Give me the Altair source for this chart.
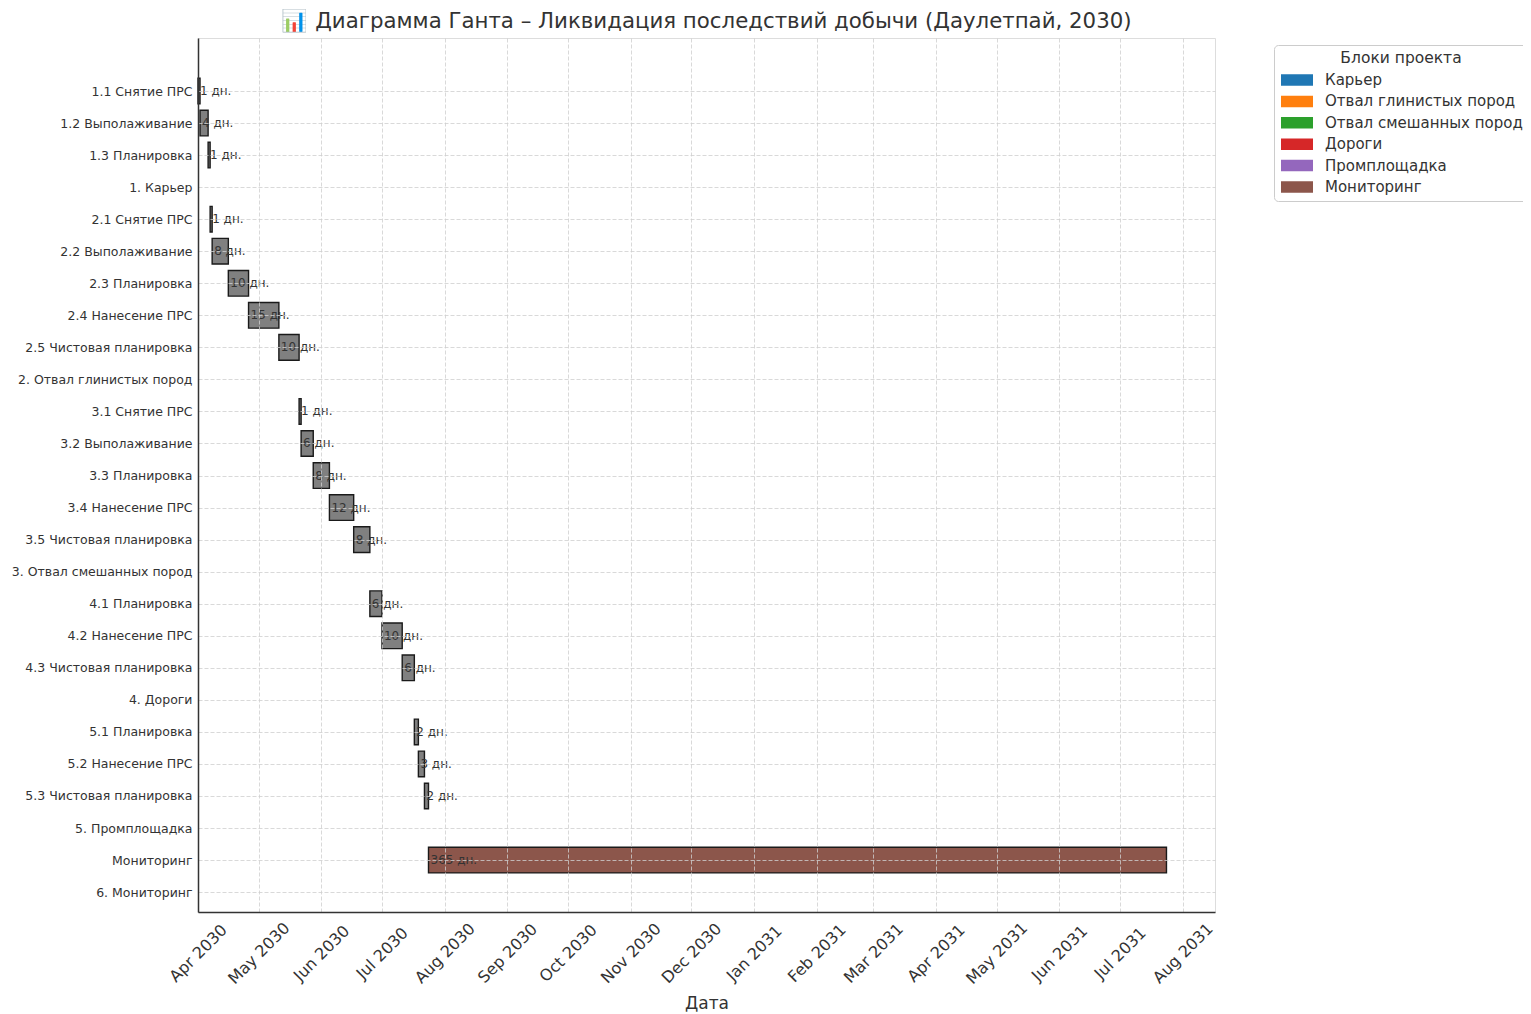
import altair as alt
import pandas as pd

# ---------------- data ----------------
blocks = ["Карьер", "Отвал глинистых пород", "Отвал смешанных пород",
          "Дороги", "Промплощадка", "Мониторинг"]
block_colors = ["#1f77b4", "#ff7f0e", "#2ca02c", "#d62728", "#9467bd", "#8c564b"]

row_labels = [
    "1.1 Снятие ПРС", "1.2 Выполаживание", "1.3 Планировка", "1. Карьер",
    "2.1 Снятие ПРС", "2.2 Выполаживание", "2.3 Планировка", "2.4 Нанесение ПРС",
    "2.5 Чистовая планировка", "2. Отвал глинистых пород",
    "3.1 Снятие ПРС", "3.2 Выполаживание", "3.3 Планировка", "3.4 Нанесение ПРС",
    "3.5 Чистовая планировка", "3. Отвал смешанных пород",
    "4.1 Планировка", "4.2 Нанесение ПРС", "4.3 Чистовая планировка", "4. Дороги",
    "5.1 Планировка", "5.2 Нанесение ПРС", "5.3 Чистовая планировка", "5. Промплощадка",
    "Мониторинг", "6. Мониторинг",
]

task_labels = [
    "1.1 Снятие ПРС", "1.2 Выполаживание", "1.3 Планировка",
    "2.1 Снятие ПРС", "2.2 Выполаживание", "2.3 Планировка", "2.4 Нанесение ПРС",
    "2.5 Чистовая планировка",
    "3.1 Снятие ПРС", "3.2 Выполаживание", "3.3 Планировка", "3.4 Нанесение ПРС",
    "3.5 Чистовая планировка",
    "4.1 Планировка", "4.2 Нанесение ПРС", "4.3 Чистовая планировка",
    "5.1 Планировка", "5.2 Нанесение ПРС", "5.3 Чистовая планировка",
    "Мониторинг",
]
task_rows = [0, 1, 2, 4, 5, 6, 7, 8, 10, 11, 12, 13, 14, 16, 17, 18, 20, 21, 22, 24]
task_block = (["Карьер"] * 3 + ["Отвал глинистых пород"] * 5 +
              ["Отвал смешанных пород"] * 5 + ["Дороги"] * 3 +
              ["Промплощадка"] * 3 + ["Мониторинг"])
task_start = [
    "2030-04-01", "2030-04-02", "2030-04-06",
    "2030-04-07", "2030-04-08", "2030-04-16", "2030-04-26", "2030-05-11",
    "2030-05-21", "2030-05-22", "2030-05-28", "2030-06-05", "2030-06-17",
    "2030-06-25", "2030-07-01", "2030-07-11",
    "2030-07-17", "2030-07-19", "2030-07-22",
    "2030-07-24",
]
task_days = [1, 4, 1, 1, 8, 10, 15, 10, 1, 6, 8, 12, 8, 6, 10, 6, 2, 3, 2, 365]

month_ticks = [(2030, m) for m in range(4, 13)] + [(2031, m) for m in range(1, 9)]

# ---------------- frames ----------------
start = pd.to_datetime(pd.Series(task_start))
end = start + pd.to_timedelta(pd.Series(task_days), unit="D")
df = pd.DataFrame({
    "task": task_labels,
    "block": task_block,
    "start": start.dt.strftime("%Y-%m-%dT%H:%M:%S"),
    "end": end.dt.strftime("%Y-%m-%dT%H:%M:%S"),
    "row": task_rows,
    "label": [f"{d} дн." for d in task_days],
})
df["y1"] = df["row"] - 0.4
df["y2"] = df["row"] + 0.4

leg_df = pd.DataFrame({"block": blocks,
                       "start": [df["start"][0]] * len(blocks),
                       "y1": [0.0] * len(blocks)})

FONT = "DejaVu Sans"
TXT = "#333333"

x_scale = alt.Scale(domain=[alt.DateTime(year=2030, month=4, date=1),
                            alt.DateTime(year=2031, month=8, date=17)], nice=False)
y_scale = alt.Scale(domain=[-1.654, 25.62], reverse=True, nice=False, zero=False)

label_arr = "[" + ",".join("'" + s + "'" for s in row_labels) + "]"

x_axis = alt.Axis(
    values=[alt.DateTime(year=y, month=m, date=1) for y, m in month_ticks],
    format="%b %Y", labelAngle=-45, labelAlign="center", labelBaseline="middle",
    labelPadding=41, ticks=False, labelOverlap=False, labelFlush=False,
    labelFont=FONT, labelFontSize=16, labelColor=TXT,
    title="Дата", titleFont=FONT, titleFontSize=17, titleFontWeight="normal",
    titleColor=TXT, titlePadding=9,
    grid=True, gridColor="#cfcfcf", gridDash=[4, 2], gridWidth=0.8,
    domainColor="#333333", domainWidth=1.5, zindex=1,
)
y_axis = alt.Axis(
    values=list(range(len(row_labels))), labelExpr=label_arr + "[datum.value]",
    ticks=False, labelPadding=6, labelOverlap=False, labelFlush=False,
    labelSeparation=0, labelBound=False, labelLimit=400,
    labelFont=FONT, labelFontSize=12.5, labelColor=TXT, title=None,
    grid=True, gridColor="#cfcfcf", gridDash=[4, 2], gridWidth=0.8,
    domainColor="#333333", domainWidth=1.5, zindex=1,
)

base = alt.Chart(df)

bars = base.mark_bar(stroke="#1a1a1a", strokeWidth=1.4, opacity=1).encode(
    x=alt.X("start:T", scale=x_scale, axis=x_axis),
    x2="end:T",
    y=alt.Y("y1:Q", scale=y_scale, axis=y_axis),
    y2="y2:Q",
    color=alt.condition(alt.datum.block == "Мониторинг",
                        alt.value("#8c564b"), alt.value("#808080")),
)

texts = base.mark_text(align="left", baseline="middle", dx=2, font=FONT,
                       fontSize=12, color=TXT).encode(
    x=alt.X("start:T", scale=x_scale, axis=x_axis),
    y=alt.Y("row:Q", scale=y_scale, axis=y_axis),
    text="label:N",
)

legend_layer = alt.Chart(leg_df).mark_rect().encode(
    x=alt.X("start:T", scale=x_scale, axis=x_axis),
    x2="start:T",
    y=alt.Y("y1:Q", scale=y_scale, axis=y_axis),
    y2="y1:Q",
    color=alt.Color("block:N",
                    scale=alt.Scale(domain=blocks, range=block_colors),
                    legend=alt.Legend(
                        title="Блоки проекта", orient="none",
                        legendX=1076, legendY=7,
                        symbolType="M-1,-0.36H1V0.36H-1Z", symbolSize=1024,
                        clipHeight=15, rowPadding=5.4, labelOffset=11,
                        titleAnchor="middle", titlePadding=6, padding=6,
                        labelFont=FONT, labelFontSize=15, labelColor=TXT,
                        titleFont=FONT, titleFontSize=15.5,
                        titleFontWeight="normal", titleColor=TXT,
                        strokeColor="#cccccc", cornerRadius=4, fillColor="white",
                        labelLimit=400,
                    )),
)

chart = alt.layer(bars, legend_layer, texts).properties(
    width=1017, height=874,
    title=alt.TitleParams(
        "📊 Диаграмма Ганта – Ликвидация последствий добычи (Даулетпай, 2030)",
        font=FONT, fontSize=21.3, fontWeight="normal", color=TXT,
        anchor="middle", offset=6),
    autosize=alt.AutoSizeParams(type="none"),
    padding={"left": 190, "top": 30, "right": 308, "bottom": 106},
).configure_view(stroke=None).configure(background="white")

chart.save("out.html", embed_options={"renderer": "svg", "actions": False})
